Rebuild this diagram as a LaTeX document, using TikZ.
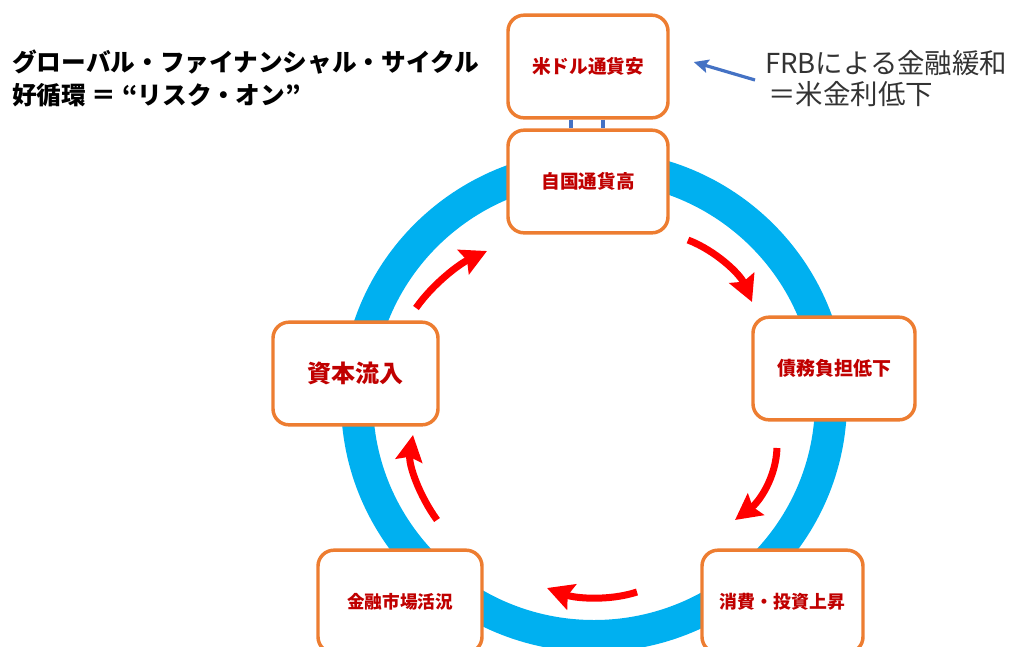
\documentclass[tikz,border=0pt]{standalone}
\usepackage{fontspec}
\setmainfont{Noto Sans CJK JP}
\usetikzlibrary{arrows.meta}
\definecolor{boxorange}{HTML}{ED7D31}
\definecolor{boxred}{HTML}{C00000}
\definecolor{cycred}{HTML}{FF0000}
\definecolor{ringblue}{HTML}{00B0F0}
\definecolor{linkblue}{HTML}{4472C4}
\definecolor{notegray}{HTML}{333333}
\begin{document}
\begin{tikzpicture}[x=0.75pt,y=0.75pt,
  box/.style={draw=boxorange, line width=2.6pt, rounded corners=12pt, fill=white,
    minimum height=77pt, inner sep=0pt, text=boxred},
  cyc/.style={draw=cycred, line width=5.25pt, -{Stealth[length=19.5pt,width=20pt,inset=3pt]}},
  ring/.style={draw=ringblue, line width=24pt},
  link/.style={draw=linkblue, line width=2.6pt},
  note/.style={text=notegray, inner sep=0pt, anchor=west, font=\fontsize{20.6pt}{24pt}\selectfont},
  title/.style={text=black, inner sep=0pt, anchor=west, font=\fontsize{18.5pt}{22pt}\selectfont\bfseries}]
\useasboundingbox (0,0) rectangle (1026,-647);
% ring
\draw[ring] (594,-401) ellipse [x radius=237, y radius=235];
% boxes
\node[box, minimum width=120pt, font=\fontsize{14pt}{16pt}\selectfont\bfseries] (usd) at (588,-66.5) {米ドル通貨安};
\node[box, minimum width=120pt, font=\fontsize{14pt}{16pt}\selectfont\bfseries] (home) at (588,-181.5) {自国通貨高};
\node[box, minimum width=121.5pt, font=\fontsize{14.25pt}{16pt}\selectfont\bfseries] (debt) at (834,-368.5) {債務負担低下};
\node[box, minimum width=120.75pt, font=\fontsize{13.4pt}{16pt}\selectfont\bfseries] (cons) at (782.5,-601.5) {消費・投資上昇};
\node[box, minimum width=123pt, font=\fontsize{13.2pt}{16pt}\selectfont\bfseries] (fin) at (400,-601.5) {金融市場活況};
\node[box, minimum width=123.75pt, font=\fontsize{18pt}{20pt}\selectfont\bfseries] (cap) at (355.5,-373.5) {資本流入};
% links between top boxes
\draw[link] ([xshift=-12.75pt]usd.south) -- ([xshift=-12.75pt]home.north);
\draw[link] ([xshift=11.25pt]usd.south) -- ([xshift=11.25pt]home.north);
% cycle arrows
\coordinate (a1s) at (416,-308); \coordinate (a1e) at (487,-251);
\coordinate (a2s) at (688,-240); \coordinate (a2e) at (752,-302);
\coordinate (a3s) at (777,-448); \coordinate (a3e) at (735,-520);
\coordinate (a4s) at (637,-592); \coordinate (a4e) at (547,-588);
\coordinate (a5s) at (437,-520); \coordinate (a5e) at (413,-435);
\draw[cyc] (a1s) .. controls +(55:30) and +(205:30) .. (a1e);
\draw[cyc] (a2s) .. controls +(-21:30) and +(113:30) .. (a2e);
\draw[cyc] (a3s) .. controls +(-92:30) and +(37:30) .. (a3e);
\draw[cyc] (a4s) .. controls +(198:30) and +(-20:30) .. (a4e);
\draw[cyc] (a5s) .. controls +(126:30) and +(-99:30) .. (a5e);
% titles
\node[title] (t1) at (12,-62) {グローバル・ファイナンシャル・サイクル};
\node[title] (t2) at (12,-95) {好循環 ＝ “リスク・オン”};
% note
\node[note] (n1) at (765,-63) {FRBによる金融緩和};
\node[note] (n2) at (768,-94) {＝米金利低下};
\coordinate (ntail) at (755,-80);
\draw[linkblue, line width=2.4pt, -{Stealth[length=11pt,width=10pt,inset=2pt]}] (ntail) -- ([xshift=18pt]usd.east |- 0,-62);
\end{tikzpicture}
\end{document}
